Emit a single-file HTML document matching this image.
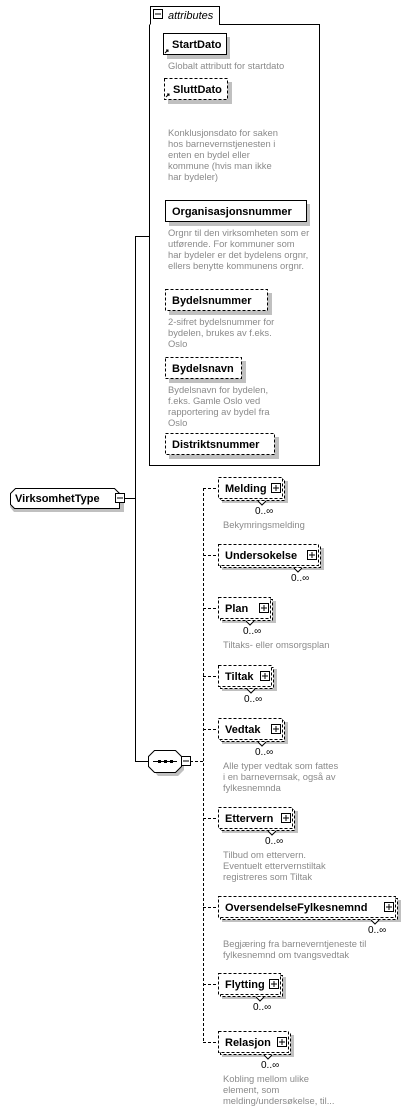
<!DOCTYPE html>
<html><head><meta charset="utf-8"><style>
html,body{margin:0;padding:0;background:#fff}
svg{display:block}
.b{font:bold 11px "Liberation Sans",sans-serif;fill:#000}
.d{font:9.4px "Liberation Sans",sans-serif;fill:#8a8a8a}
.m{font:10px "Liberation Sans",sans-serif;fill:#000}
</style></head><body>
<svg width="409" height="1109" xmlns="http://www.w3.org/2000/svg">
<g stroke="#000" fill="none">
<path d="M150.5 24.5 V6.5 H219.5 V24.5 H319.5 V465.5 H149.5 V24.5" fill="#fff"/>
<rect x="153.5" y="9.5" width="9" height="9" fill="#fff"/>
<line x1="155" y1="14" x2="161" y2="14"/>
<line x1="120" y1="498.5" x2="135" y2="498.5"/>
<line x1="135.5" y1="236" x2="135.5" y2="761"/>
<line x1="135" y1="236.5" x2="149" y2="236.5"/>
<line x1="135" y1="761.5" x2="149" y2="761.5"/>
<line x1="190" y1="761.5" x2="203" y2="761.5" stroke-dasharray="3,2"/>
<line x1="203.5" y1="488" x2="203.5" y2="1042" stroke-dasharray="3,2"/>
</g>
<polygon points="15,492 119,492 124,497 124,512 14,512 10,507" fill="#c0c0c0"/>
<polygon points="15.5,488.5 114.5,488.5 119.5,493.5 119.5,508.5 14.5,508.5 10.5,504.5 10.5,493.5" fill="#fff" stroke="#000"/>
<text class="b" x="15" y="502">VirksomhetType</text>
<rect x="115.5" y="493.5" width="9" height="9" fill="#fff" stroke="#000"/>
<line x1="117" y1="498" x2="123" y2="498" stroke="#000"/>
<polygon points="158,754 178,754 184,760 184,770 178,776 158,776 153,770 153,760" fill="#c0c0c0"/>
<polygon points="154.5,750.5 175.5,750.5 181.5,756.5 181.5,766.5 175.5,772.5 154.5,772.5 148.5,766.5 148.5,756.5" fill="#fff" stroke="#000"/>
<line x1="153" y1="761.5" x2="177" y2="761.5" stroke="#000"/>
<rect x="158" y="760" width="3" height="3"/><rect x="164" y="760" width="3" height="3"/><rect x="170" y="760" width="3" height="3"/>
<rect x="181.5" y="756.5" width="9" height="9" fill="#fff" stroke="#000"/>
<line x1="183" y1="761" x2="189" y2="761" stroke="#000"/>

<text x="168" y="19" style="font:italic 11px 'Liberation Sans',sans-serif">attributes</text>

<rect x="167" y="37" width="63" height="22" fill="#c0c0c0"/>
<rect x="163.5" y="33.5" width="63" height="21" fill="#fff" stroke="#000"/>
<text class="b" x="172" y="48">StartDato</text>
<path d="M165 53 L168 50 M166 50 H168 V52" stroke="#000" fill="none"/>
<text class="d" x="168" y="69">Globalt attributt for startdato</text>

<rect x="168" y="82" width="64" height="22" fill="#c0c0c0"/>
<rect x="164.5" y="78.5" width="63" height="21" fill="#fff" stroke="#000" stroke-dasharray="3,2"/>
<text class="b" x="173" y="93">SluttDato</text>
<path d="M166 97 L169 94 M167 94 H169 V96" stroke="#000" fill="none"/>
<text class="d" x="168" y="136">Konklusjonsdato for saken</text>
<text class="d" x="168" y="147">hos barnevernstjenesten i</text>
<text class="d" x="168" y="158">enten en bydel eller</text>
<text class="d" x="168" y="169">kommune (hvis man ikke</text>
<text class="d" x="168" y="180">har bydeler)</text>

<rect x="169" y="204" width="141" height="22" fill="#c0c0c0"/>
<rect x="165.5" y="200.5" width="141" height="21" fill="#fff" stroke="#000"/>
<text class="b" x="172" y="215">Organisasjonsnummer</text>
<text class="d" x="168" y="236">Orgnr til den virksomheten som er</text>
<text class="d" x="168" y="247">utførende. For kommuner som</text>
<text class="d" x="168" y="258">har bydeler er det bydelens orgnr,</text>
<text class="d" x="168" y="269">ellers benytte kommunens orgnr.</text>

<rect x="169" y="293" width="103" height="22" fill="#c0c0c0"/>
<rect x="165.5" y="289.5" width="102" height="21" fill="#fff" stroke="#000" stroke-dasharray="3,2"/>
<text class="b" x="172" y="304">Bydelsnummer</text>
<text class="d" x="168" y="325">2-sifret bydelsnummer for</text>
<text class="d" x="168" y="336">bydelen, brukes av f.eks.</text>
<text class="d" x="168" y="347">Oslo</text>

<rect x="169" y="361" width="77" height="22" fill="#c0c0c0"/>
<rect x="165.5" y="357.5" width="76" height="21" fill="#fff" stroke="#000" stroke-dasharray="3,2"/>
<text class="b" x="172" y="372">Bydelsnavn</text>
<text class="d" x="168" y="393">Bydelsnavn for bydelen,</text>
<text class="d" x="168" y="404">f.eks. Gamle Oslo ved</text>
<text class="d" x="168" y="415">rapportering av bydel fra</text>
<text class="d" x="168" y="426">Oslo</text>

<rect x="169" y="437" width="110" height="22" fill="#c0c0c0"/>
<rect x="165.5" y="433.5" width="109" height="21" fill="#fff" stroke="#000" stroke-dasharray="3,2"/>
<text class="b" x="172" y="448">Distriktsnummer</text>

<g id="kids"></g>
</svg>
<script>
const kids=[
["Melding",477,66,["Bekymringsmelding"]],
["Undersokelse",544,102,[]],
["Plan",597,54,["Tiltaks- eller omsorgsplan"]],
["Tiltak",665,55,[]],
["Vedtak",718,66,["Alle typer vedtak som fattes","i en barnevernsak, også av","fylkesnemnda"]],
["Ettervern",807,76,["Tilbud om ettervern.","Eventuelt ettervernstiltak","registreres som Tiltak"]],
["OversendelseFylkesnemnd",896,179,["Begjæring fra barneverntjeneste til","fylkesnemnd om tvangsvedtak"]],
["Flytting",973,64,[]],
["Relasjon",1031,72,["Kobling mellom ulike","element, som","melding/undersøkelse, til..."]]];
let s="";
for(const [n,y,w,d] of kids){
 const x=218,r=x+w;
 s+=`<line x1="203" y1="${y+11.5}" x2="${x}" y2="${y+11.5}" stroke="#000" stroke-dasharray="3,2"/>`;
 s+=`<rect x="${x+4}" y="${y+4}" width="${w}" height="22" fill="#c0c0c0"/>`;
 s+=`<rect x="${x+2.5}" y="${y+2.5}" width="${w-2}" height="21" fill="#fff" stroke="#000" stroke-dasharray="3,2"/>`;
 s+=`<rect x="${x+.5}" y="${y+.5}" width="${w-2}" height="21" fill="#fff" stroke="#000" stroke-dasharray="3,2"/>`;
 s+=`<text class="b" x="${x+7}" y="${y+15}">${n}</text>`;
 s+=`<rect x="${r-12.5}" y="${y+6.5}" width="9" height="9" fill="#fff" stroke="#000"/>`;
 s+=`<line x1="${r-11}" y1="${y+11}" x2="${r-5}" y2="${y+11}" stroke="#000"/><line x1="${r-8}" y1="${y+8}" x2="${r-8}" y2="${y+14}" stroke="#000"/>`;
 s+=`<path d="M${r-26} ${y+24} L${r-22} ${y+28} L${r-18} ${y+24}" fill="#fff" stroke="#000"/>`;
 s+=`<text class="m" x="${r-29}" y="${y+37}">0..∞</text>`;
 d.forEach((t,i)=>{s+=`<text class="d" x="223" y="${y+51+i*11}">${t}</text>`});
}
document.getElementById("kids").outerHTML=s;
</script>
</body></html>
